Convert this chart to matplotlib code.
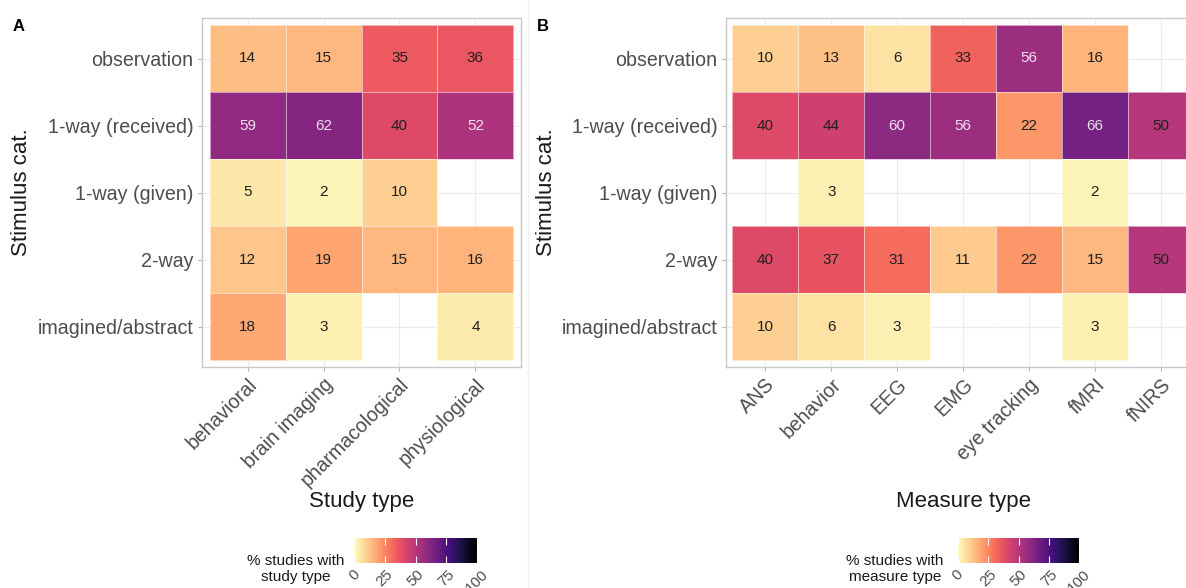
import matplotlib.pyplot as plt
import numpy as np
from matplotlib.colors import Normalize
from matplotlib.lines import Line2D

plt.rcParams['font.family'] = ['Liberation Sans', 'DejaVu Sans']

# ── Data: % of studies per stimulus category ────────────────────────────────
STIMULUS = ["observation", "1-way (received)", "1-way (given)", "2-way",
            "imagined/abstract"]
STUDY_TYPES = ["behavioral", "brain imaging", "pharmacological", "physiological"]
MEASURE_TYPES = ["ANS", "behavior", "EEG", "EMG", "eye tracking", "fMRI", "fNIRS"]

nan = np.nan
STUDY_PCT = np.array([
    [14, 15, 35, 36],
    [59, 62, 40, 52],
    [5, 2, 10, nan],
    [12, 19, 15, 16],
    [18, 3, nan, 4],
])
MEASURE_PCT = np.array([
    [10, 13, 6, 33, 56, 16, nan],
    [40, 44, 60, 56, 22, 66, 50],
    [nan, 3, nan, nan, nan, 2, nan],
    [40, 37, 31, 11, 22, 15, 50],
    [10, 6, 3, nan, nan, 3, nan],
])
CBAR_TICKS = [0, 25, 50, 75, 100]

# ── Layout helpers (pixel coordinates, origin top-left) ─────────────────────
W, H = 1186, 588
fig = plt.figure(figsize=(W / 100, H / 100), dpi=100)


def frame(left, top, right, bottom):
    return [left / W, 1 - bottom / H, (right - left) / W, (bottom - top) / H]


def fx(x):
    return x / W


def fy(y):
    return 1 - y / H


cmap = plt.get_cmap("magma_r")
norm = Normalize(0, 100)
TICK_GREY = "#4D4D4D"


def heatmap(ax, values, xlabels):
    nrow, ncol = values.shape
    mesh = ax.pcolormesh(np.arange(ncol + 1) - 0.5, np.arange(nrow + 1) - 0.5,
                         np.ma.masked_invalid(values), cmap=cmap, norm=norm,
                         edgecolors=(1, 1, 1, 0.55), linewidth=0.6, zorder=2)
    for r in range(nrow):
        for c in range(ncol):
            v = values[r, c]
            if np.isnan(v):
                continue
            dark = v > 50
            ax.text(c, r, f"{v:.0f}", ha="center", va="center", fontsize=11,
                    color="white" if dark else "#1f1f1f",
                    alpha=0.85 if dark else 1.0, zorder=3)
    ax.set_xlim(-0.6, ncol - 0.4)
    ax.set_ylim(nrow - 0.4, -0.6)
    ax.set_xticks(range(ncol))
    ax.set_yticks(range(nrow))
    ax.set_xticklabels(xlabels, rotation=45, ha="right", va="top",
                       rotation_mode="anchor")
    ax.set_yticklabels(STIMULUS)
    ax.tick_params(length=3, width=0.8, color="#B3B3B3", labelsize=14.1,
                   labelcolor=TICK_GREY, pad=3)
    ax.grid(True, color="#EBEBEB", lw=0.8)
    ax.set_axisbelow(True)
    for s in ax.spines.values():
        s.set_color("#C8C8C8")
        s.set_linewidth(1.0)
    return mesh


def colorbar(mesh, rect):
    cax = fig.add_axes(rect)
    cb = fig.colorbar(mesh, cax=cax, orientation="horizontal")
    cb.outline.set_visible(False)
    cb.set_ticks(CBAR_TICKS)
    cax.tick_params(axis="x", direction="in", length=5, width=0.8,
                    color="white", top=True, labelsize=11,
                    labelcolor=TICK_GREY, pad=3)
    plt.setp(cax.get_xticklabels(), rotation=45, ha="center")
    return cb


# ── Panel A: study type ─────────────────────────────────────────────────────
ax_a = fig.add_axes(frame(202, 18.3, 521, 366.7))
mesh_a = heatmap(ax_a, STUDY_PCT, STUDY_TYPES)
colorbar(mesh_a, frame(354.3, 538.3, 476.7, 562.7))

# ── Panel B: measure type (right edge runs past the canvas) ─────────────────
ax_b = fig.add_axes(frame(725.7, 18.3, 1200.5, 366.7))
mesh_b = heatmap(ax_b, MEASURE_PCT, MEASURE_TYPES)
colorbar(mesh_b, frame(957.7, 538.3, 1079.3, 562.7))

# ── Titles, legend captions and panel letters ───────────────────────────────
for x, letter in [(13, "A"), (537, "B")]:
    fig.text(fx(x), fy(19), letter, fontsize=12, fontweight="bold",
             ha="left", va="top")
for x in (22, 546):
    fig.text(fx(x), fy(192.5), "Stimulus cat.", fontsize=16, rotation=90,
             ha="center", va="center", color="#1a1a1a")
fig.text(fx(361.5), fy(501), "Study type", fontsize=16, ha="center",
         va="center", color="#1a1a1a")
fig.text(fx(963), fy(501), "Measure type", fontsize=16, ha="center",
         va="center", color="#1a1a1a")
fig.text(fx(296), fy(569), "% studies with\nstudy type", fontsize=11,
         ha="center", va="center", multialignment="center", color="#1a1a1a",
         linespacing=1.1)
fig.text(fx(895), fy(569), "% studies with\nmeasure type", fontsize=11,
         ha="center", va="center", multialignment="center", color="#1a1a1a",
         linespacing=1.1)

# faint divider between the two panels
fig.add_artist(Line2D([fx(528), fx(528)], [0, 1], color="#F0F0F0", lw=1))

fig.savefig("out.png", dpi=100)
